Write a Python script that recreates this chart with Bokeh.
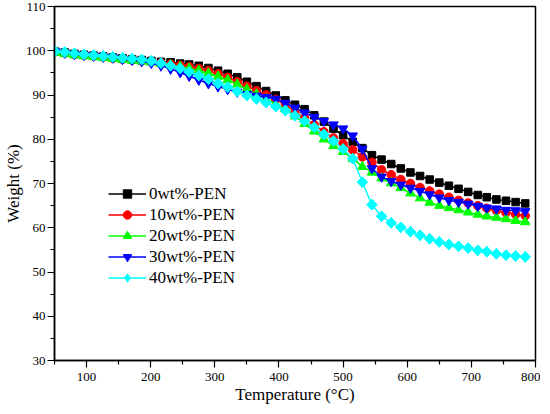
import numpy as np
from bokeh.plotting import figure
from bokeh.models import Range1d, FixedTicker, Legend, LegendItem
from bokeh.embed import file_html
from bokeh.resources import INLINE

temperature = [51, 66, 81, 96, 111, 126, 141, 156, 171, 186, 201, 216, 231, 246, 260,
               275, 290, 305, 320, 335, 350, 365, 380, 395, 410, 425, 440, 455, 470, 485,
               500, 515, 530, 545, 560, 575, 590, 605, 620, 635, 650, 665, 680, 695, 710,
               724, 739, 754, 769, 784]

pen0 = [99.8, 99.6, 99.3, 99.1, 98.9, 98.7, 98.5, 98.3, 98.1, 97.9, 97.7, 97.5, 97.4, 97.1, 96.9,
        96.6, 96.1, 95.5, 94.8, 94.0, 93.0, 92.0, 90.9, 89.9, 88.8, 87.8, 86.8, 85.4, 84.0, 82.4,
        80.9, 79.4, 78.0, 76.4, 75.4, 74.4, 73.4, 72.5, 71.7, 70.9, 70.2, 69.5, 68.8, 68.1, 67.4,
        66.9, 66.4, 66.1, 65.8, 65.5]

pen10 = [99.8, 99.5, 99.2, 99.0, 98.8, 98.6, 98.3, 98.1, 97.9, 97.7, 97.5, 97.3, 97.0, 96.7, 96.4,
         96.0, 95.5, 94.8, 94.0, 93.0, 92.0, 91.0, 90.0, 89.0, 87.8, 86.3, 84.8, 83.3, 81.7, 80.3,
         79.0, 77.6, 76.0, 74.8, 73.1, 72.0, 70.9, 70.0, 69.1, 68.3, 67.6, 66.9, 66.2, 65.6, 65.0,
         64.4, 63.9, 63.4, 63.0, 62.7]

pen20 = [99.6, 99.3, 99.0, 98.8, 98.6, 98.4, 98.2, 98.0, 97.8, 97.6, 97.4, 97.1, 96.8, 96.4, 96.0,
         95.5, 94.9, 94.2, 93.4, 92.4, 91.3, 90.2, 89.1, 88.0, 86.8, 85.2, 83.5, 81.8, 80.0, 78.5,
         77.2, 75.6, 73.8, 72.5, 71.2, 70.1, 69.0, 67.8, 66.7, 65.7, 65.0, 64.5, 64.0, 63.5, 63.0,
         62.6, 62.3, 62.0, 61.6, 61.3]

pen30 = [99.8, 99.5, 99.2, 99.0, 98.8, 98.6, 98.4, 98.1, 97.9, 97.6, 97.2, 96.6, 95.9, 95.1, 94.3,
         93.4, 92.6, 91.9, 91.3, 90.7, 90.2, 89.8, 89.5, 89.1, 88.2, 87.1, 86.0, 85.0, 84.1, 83.3,
         82.4, 80.8, 77.8, 73.4, 71.5, 70.5, 69.7, 69.0, 68.3, 67.5, 66.8, 66.2, 65.8, 65.4, 64.9,
         64.5, 64.3, 64.0, 63.9, 63.7]

pen40 = [99.9, 99.7, 99.4, 99.2, 99.0, 98.8, 98.6, 98.4, 98.2, 98.0, 97.7, 97.2, 96.6, 96.0, 95.2,
         94.4, 93.6, 92.6, 91.8, 90.8, 89.9, 89.1, 88.3, 87.4, 86.5, 85.3, 84.1, 82.7, 81.1, 79.6,
         77.8, 75.6, 70.3, 65.2, 62.6, 61.1, 60.1, 59.1, 58.3, 57.5, 56.8, 56.2, 55.8, 55.4, 54.9,
         54.6, 54.1, 53.8, 53.6, 53.4]

labels = ["0wt%-PEN", "10wt%-PEN", "20wt%-PEN", "30wt%-PEN", "40wt%-PEN"]
series = [pen0, pen10, pen20, pen30, pen40]
colors = ["#000000", "#FF0000", "#00FF00", "#0000FF", "#00FFFF"]
markers = ["square", "circle", "triangle", "inverted_triangle", "square"]
sizes = [7.5, 8.5, 9.5, 9.5, 7.5]
angles = [0, 0, 0, 0, 45]
# symbol shown in the legend (drawn under the plot markers, fully covered by them)
legend_markers = ["square", "circle", "triangle", "inverted_triangle", "diamond"]
legend_sizes = [7.5, 8.5, 9.5, 9.5, 10.5]

x_major = [100, 200, 300, 400, 500, 600, 700, 800]
x_minor = [50, 150, 250, 350, 450, 550, 650, 750]
y_major = [30, 40, 50, 60, 70, 80, 90, 100, 110]
y_minor = [35, 45, 55, 65, 75, 85, 95, 105]

FONT = "Liberation Serif"

p = figure(width=540, height=406, x_range=Range1d(50, 800), y_range=Range1d(30, 110),
           output_backend="svg", toolbar_location=None,
           min_border_left=44, min_border_right=5, min_border_top=6, min_border_bottom=45)

p.grid.visible = False
p.outline_line_color = "black"
p.outline_line_width = 1.5
p.outline_line_alpha = 1.0
p.background_fill_color = "white"
p.border_fill_color = "white"

p.xaxis.ticker = FixedTicker(ticks=x_major, minor_ticks=x_minor)
p.yaxis.ticker = FixedTicker(ticks=y_major, minor_ticks=y_minor)
p.xaxis.axis_label = "Temperature (\u00b0C)"
p.yaxis.axis_label = "Weight (%)"
for ax in (p.xaxis, p.yaxis):
    ax.axis_line_width = 1.5
    ax.axis_line_color = "black"
    ax.major_tick_line_color = "black"
    ax.minor_tick_line_color = "black"
    ax.major_tick_line_width = 1.2
    ax.minor_tick_line_width = 1.2
    ax.major_tick_out = 7
    ax.major_tick_in = 0
    ax.minor_tick_out = 4
    ax.minor_tick_in = 0
    ax.major_label_text_font = FONT
    ax.major_label_text_font_size = "13px"
    ax.major_label_text_color = "black"
    ax.axis_label_text_font = FONT
    ax.axis_label_text_font_size = "17px"
    ax.axis_label_text_font_style = "normal"
    ax.axis_label_text_color = "black"
p.xaxis.major_label_standoff = 5
p.xaxis.axis_label_standoff = 1
p.yaxis.major_label_standoff = 2
p.yaxis.axis_label_standoff = 0

items = []
for lab, ys, c, m, s, a, lm, ls in zip(labels, series, colors, markers, sizes, angles,
                                       legend_markers, legend_sizes):
    lr = p.line(temperature, ys, line_color=c, line_width=1.5)
    gr = p.scatter(temperature, ys, marker=lm, size=ls, fill_color=c, line_color=c)
    if a:
        p.scatter(temperature, ys, marker=m, size=s, fill_color=c, line_color=c,
                  angle=a, angle_units="deg")
    items.append(LegendItem(label=lab, renderers=[lr, gr]))

legend = Legend(items=items, location=(54, 72),
                label_text_font=FONT, label_text_font_size="17px", label_text_color="black",
                glyph_width=38, glyph_height=21, label_height=21, spacing=0,
                padding=0, margin=0, label_standoff=3,
                border_line_alpha=0, background_fill_alpha=0)
p.add_layout(legend)

open("out.html", "w").write(file_html(p, INLINE))
